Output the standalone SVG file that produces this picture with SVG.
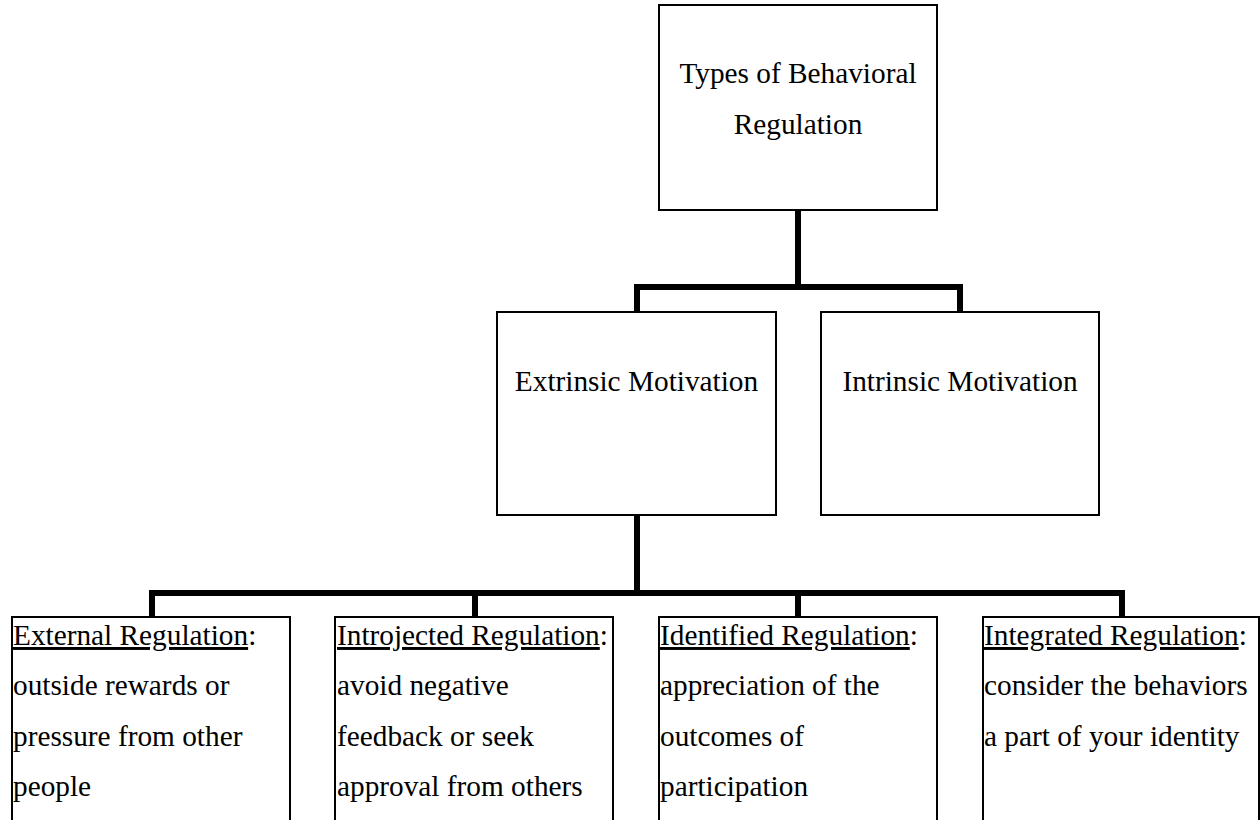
<svg xmlns="http://www.w3.org/2000/svg" width="1260" height="820" viewBox="0 0 1260 820">
<style>
.box{fill:#fff;stroke:#000;stroke-width:2}
.conn{fill:none;stroke:#000;stroke-width:6;stroke-linecap:butt;stroke-linejoin:miter}
text{font-family:"Liberation Serif","Times New Roman",serif;font-size:29.3px;fill:#000}
.c{text-anchor:middle}
.u{text-decoration:underline}
</style>
<rect width="1260" height="820" fill="#fff"/>
<g id="connectors">
<path class="conn" d="M798,210 V287 M637,314 V287 H960 V314"/>
<path class="conn" d="M637,515 V593 M152,619 V593 H1122 V619 M475,593 V619 M798,593 V619"/>
</g>
<g id="root">
<rect class="box" x="659" y="5" width="278" height="205"/>
<text class="c" x="798" y="83">Types of Behavioral</text>
<text class="c" x="798" y="134">Regulation</text>
</g>
<g id="extrinsic">
<rect class="box" x="497" y="312" width="279" height="203"/>
<text class="c" x="636.5" y="391">Extrinsic Motivation</text>
</g>
<g id="intrinsic">
<rect class="box" x="821" y="312" width="278" height="203"/>
<text class="c" x="960" y="391">Intrinsic Motivation</text>
</g>
<g id="external">
<rect class="box" x="12" y="617" width="278" height="220"/>
<text x="13" y="645"><tspan class="u">External Regulation</tspan>:</text>
<text x="13" y="695">outside rewards or</text>
<text x="13" y="746">pressure from other</text>
<text x="13" y="796">people</text>
</g>
<g id="introjected">
<rect class="box" x="335" y="617" width="278" height="220"/>
<text x="337" y="645"><tspan class="u">Introjected Regulation</tspan>:</text>
<text x="337" y="695">avoid negative</text>
<text x="337" y="746">feedback or seek</text>
<text x="337" y="796">approval from others</text>
</g>
<g id="identified">
<rect class="box" x="659" y="617" width="278" height="220"/>
<text x="660" y="645"><tspan class="u">Identified Regulation</tspan>:</text>
<text x="660" y="695">appreciation of the</text>
<text x="660" y="746">outcomes of</text>
<text x="660" y="796">participation</text>
</g>
<g id="integrated">
<rect class="box" x="983" y="617" width="276" height="220"/>
<text x="984" y="645"><tspan class="u">Integrated Regulation</tspan>:</text>
<text x="984" y="695">consider the behaviors</text>
<text x="984" y="746">a part of your identity</text>
</g>
</svg>
